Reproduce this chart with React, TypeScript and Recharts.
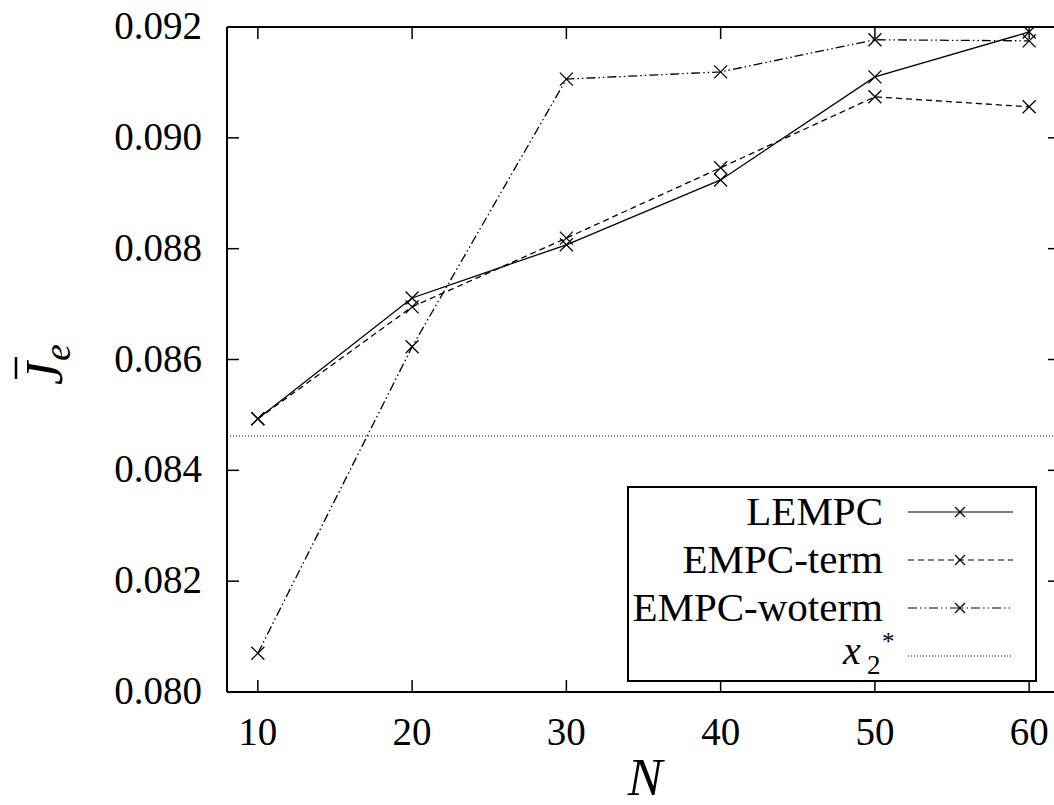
import React from "react";
import { LineChart, Line, XAxis, YAxis, ReferenceLine } from "recharts";

const N_VALUES = [10, 20, 30, 40, 50, 60];
const LEMPC = [0.08493, 0.08711, 0.08807, 0.08924, 0.0911, 0.09191];
const EMPC_TERM = [0.08493, 0.08695, 0.08819, 0.08946, 0.09074, 0.09056];
const EMPC_WOTERM = [0.0807, 0.08623, 0.09106, 0.09119, 0.09177, 0.09175];
const X2_STAR = 0.08462;
const X_TICKS = [10, 20, 30, 40, 50, 60];
const Y_TICKS = [0.08, 0.082, 0.084, 0.086, 0.088, 0.09, 0.092];

const FONT = "'Liberation Serif', 'Times New Roman', serif";
const TICK_LEN = 12;

const data = N_VALUES.map((n, i) => ({
  n,
  lempc: LEMPC[i],
  term: EMPC_TERM[i],
  woterm: EMPC_WOTERM[i],
}));

const SERIES = [
  { key: "lempc", name: "LEMPC", dash: undefined as string | undefined },
  { key: "term", name: "EMPC-term", dash: "6 4" },
  { key: "woterm", name: "EMPC-woterm", dash: "9 3 1.5 3 1.5 3" },
];

function Cross({ cx, cy, size = 6.5 }: any) {
  if (cx == null || cy == null) return null;
  const r = size;
  return (
    <g stroke="#000" strokeWidth={1.3}>
      <line x1={cx - r} y1={cy - r} x2={cx + r} y2={cy + r} />
      <line x1={cx - r} y1={cy + r} x2={cx + r} y2={cy - r} />
    </g>
  );
}

function BottomTick({ x, y, payload }: any) {
  return (
    <g>
      <line x1={x} y1={y} x2={x} y2={y - TICK_LEN} stroke="#000" strokeWidth={1.5} />
      <text x={x} y={y + 53} textAnchor="middle" style={{ fontFamily: FONT }} fontSize={39} fill="#000">
        {payload.value}
      </text>
    </g>
  );
}

function TopTick({ x, y }: any) {
  return <line x1={x} y1={y} x2={x} y2={y + TICK_LEN} stroke="#000" strokeWidth={1.5} />;
}

function LeftTick({ x, y, payload }: any) {
  return (
    <g>
      <line x1={x} y1={y} x2={x + TICK_LEN} y2={y} stroke="#000" strokeWidth={1.5} />
      <text x={x - 25} y={y + 12} textAnchor="end" style={{ fontFamily: FONT }} fontSize={39} fill="#000">
        {payload.value.toFixed(3)}
      </text>
    </g>
  );
}

function RightTick({ x, y }: any) {
  return <line x1={x} y1={y} x2={x - TICK_LEN} y2={y} stroke="#000" strokeWidth={1.5} />;
}

function YTitle() {
  // J-bar with subscript e, rotated
  return (
    <g transform="translate(62,385) rotate(-90)" style={{ fontFamily: FONT }} fill="#000">
      <text x={0} y={0} fontSize={52} fontStyle="italic">
        J
        <tspan x={24} dy={8} fontSize={38}>e</tspan>
      </text>
      <line x1={6} y1={-46} x2={28} y2={-46} stroke="#000" strokeWidth={2.5} />
    </g>
  );
}

function XTitle() {
  return (
    <text x={645} y={795} textAnchor="middle" style={{ fontFamily: FONT }} fontSize={52} fontStyle="italic" fill="#000">
      N
    </text>
  );
}

function LegendBox() {
  const left = 628;
  const top = 487;
  const rows = [512, 560, 608, 656];
  return (
    <g style={{ fontFamily: FONT }}>
      <rect x={left} y={top} width={408} height={194} fill="#fff" stroke="#000" strokeWidth={2} />
      {SERIES.map((s, i) => (
        <g key={s.key}>
          <text x={883} y={rows[i] + 13} textAnchor="end" fontSize={41} fill="#000">
            {s.name}
          </text>
          <line x1={908} y1={rows[i]} x2={1013} y2={rows[i]} stroke="#000" strokeWidth={1.2} strokeDasharray={s.dash} />
          <Cross cx={960} cy={rows[i]} size={5} />
        </g>
      ))}
      <text x={843} y={rows[3] + 8} fontSize={40} fill="#000">
        <tspan fontStyle="italic">x</tspan>
        <tspan x={867} dy={10} fontSize={27}>2</tspan>
        <tspan x={882} dy={-24} fontSize={25}>*</tspan>
      </text>
      <line x1={908} y1={rows[3]} x2={1013} y2={rows[3]} stroke="#000" strokeWidth={1.2} strokeDasharray="1 2" />
    </g>
  );
}

export default function App() {
  return (
    <div style={{ position: "absolute", left: 0, top: 0, width: 1054, height: 805, overflow: "hidden", background: "#fff" }}>
      <LineChart width={1070} height={805} data={data} margin={{ top: 26, right: 9, bottom: 53, left: 0 }}>
        <XAxis
          dataKey="n"
          type="number"
          domain={[8, 62]}
          ticks={X_TICKS}
          allowDataOverflow
          height={60}
          tickSize={0}
          tickMargin={0}
          tickLine={false}
          axisLine={{ stroke: "#000", strokeWidth: 2 }}
          tick={<BottomTick />}
          interval={0}
        />
        <XAxis
          xAxisId="top"
          orientation="top"
          dataKey="n"
          type="number"
          domain={[8, 62]}
          ticks={X_TICKS}
          allowDataOverflow
          height={1}
          tickSize={0}
          tickMargin={0}
          tickLine={false}
          axisLine={{ stroke: "#000", strokeWidth: 2 }}
          tick={<TopTick />}
          interval={0}
        />
        <YAxis
          type="number"
          domain={[0.08, 0.092]}
          ticks={Y_TICKS}
          allowDataOverflow
          width={227}
          tickSize={0}
          tickMargin={0}
          tickLine={false}
          axisLine={{ stroke: "#000", strokeWidth: 2 }}
          tick={<LeftTick />}
          interval={0}
        />
        <YAxis
          yAxisId="right"
          orientation="right"
          type="number"
          domain={[0.08, 0.092]}
          ticks={Y_TICKS}
          allowDataOverflow
          width={1}
          tickSize={0}
          tickMargin={0}
          tickLine={false}
          axisLine={{ stroke: "#000", strokeWidth: 2 }}
          tick={<RightTick />}
          interval={0}
        />
        <ReferenceLine y={X2_STAR} stroke="#000" strokeWidth={1} strokeDasharray="1 2" />
        {SERIES.map((s) => (
          <Line
            key={s.key}
            type="linear"
            dataKey={s.key}
            name={s.name}
            stroke="#000"
            strokeWidth={1.3}
            strokeDasharray={s.dash}
            dot={<Cross />}
            activeDot={false}
            isAnimationActive={false}
          />
        ))}
        <LegendBox />
        <YTitle />
        <XTitle />
      </LineChart>
    </div>
  );
}
